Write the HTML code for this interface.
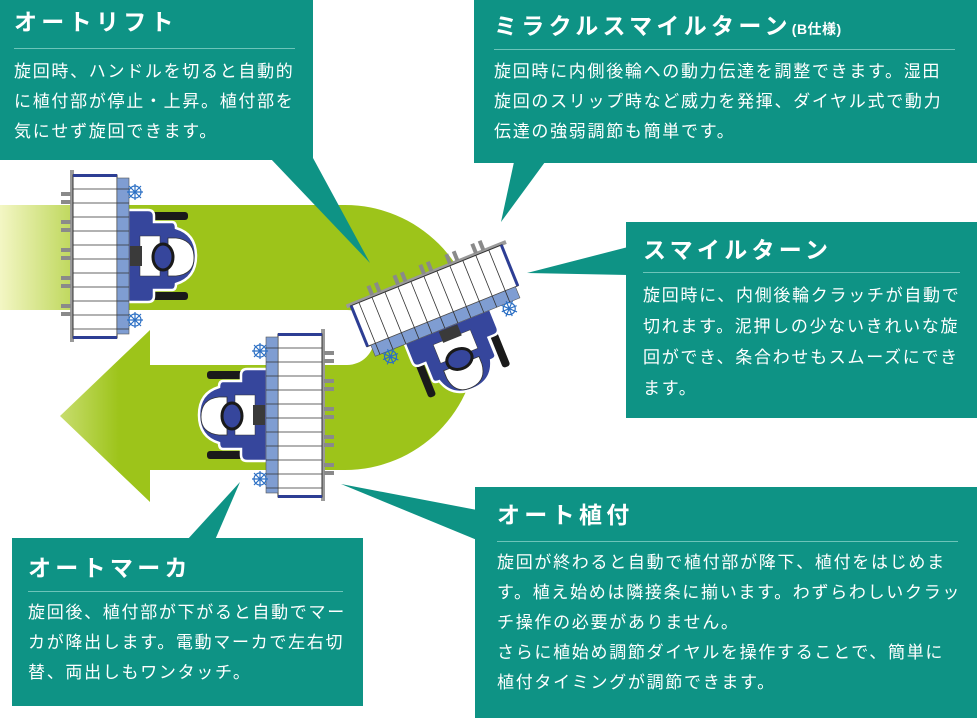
<!DOCTYPE html>
<html><head><meta charset="utf-8">
<style>
html,body{margin:0;padding:0;background:#fff;}
body{width:977px;height:718px;position:relative;overflow:hidden;font-family:"Liberation Sans","Noto Sans CJK JP",sans-serif;}
.box{position:absolute;background:#0e9385;color:#fff;}
.t{position:absolute;font-weight:bold;font-size:23px;letter-spacing:4.3px;line-height:28px;white-space:nowrap;}
.t small{font-size:14px;letter-spacing:0.5px;}
.r{position:absolute;height:1px;background:#6cc4b9;}
.b{position:absolute;font-size:17px;letter-spacing:1.7px;line-height:30px;white-space:nowrap;}
svg{position:absolute;left:0;top:0;}
</style></head><body>
<svg width="977" height="718" viewBox="0 0 977 718">
<defs>
<linearGradient id="g" gradientUnits="userSpaceOnUse" x1="0" y1="0" x2="140" y2="0">
<stop offset="0" stop-color="#f3f6c4"/><stop offset="0.85" stop-color="#9dc41a"/><stop offset="1" stop-color="#9dc41a"/>
</linearGradient>
<g id="m">
<rect x="-60" y="-86" width="4" height="172" fill="#9a9a9a"/>
<g fill="#8a8a8a">
<rect x="-69" y="-64" width="10" height="4"/><rect x="-69" y="-56" width="10" height="4"/>
<rect x="-69" y="-36" width="10" height="4"/><rect x="-69" y="-28" width="10" height="4"/>
<rect x="-69" y="-8" width="10" height="4"/><rect x="-69" y="0" width="10" height="4"/>
<rect x="-69" y="20" width="10" height="4"/><rect x="-69" y="28" width="10" height="4"/>
<rect x="-69" y="48" width="10" height="4"/><rect x="-69" y="56" width="10" height="4"/>
</g>
<rect x="22" y="-44" width="36" height="8" rx="3" fill="#1a1a1a"/>
<rect x="22" y="36" width="36" height="8" rx="3" fill="#1a1a1a"/>
<path d="M-2,-46 H18 Q24,-46 24,-40 V-34 H42 Q46,-34 46,-28 Q66,-22 66,0 Q66,22 46,28 Q46,34 42,34 H24 V40 Q24,46 18,46 H-2 Z" fill="#36469c" stroke="#fff" stroke-width="2.5"/>
<path d="M38,-18 H46 Q64,-16 64,2 Q64,18 46,20 H38 Z" fill="#fff" stroke="#333" stroke-width="0.8"/>
<rect x="10" y="-20" width="20" height="40" fill="#fff" stroke="#333" stroke-width="0.5"/>
<rect x="0" y="-10" width="12" height="20" fill="#3a3a3a"/>
<ellipse cx="33" cy="1" rx="10" ry="13" fill="#36469c" stroke="#1a1a1a" stroke-width="3"/>
<rect x="-57" y="-81" width="44" height="163" fill="#fff" stroke="#333" stroke-width="1"/>
<rect x="-57" y="-82" width="44" height="3" fill="#2d3e94"/>
<rect x="-57" y="80" width="44" height="3" fill="#2d3e94"/>
<rect x="-13" y="-78" width="12" height="156" fill="#7f9dd2" stroke="#555" stroke-width="0.6"/>
<g stroke="#333" stroke-width="0.8">
<line x1="-57" y1="-67" x2="-1" y2="-67"/><line x1="-57" y1="-53" x2="-1" y2="-53"/>
<line x1="-57" y1="-39" x2="-1" y2="-39"/><line x1="-57" y1="-25" x2="-1" y2="-25"/>
<line x1="-57" y1="-11" x2="-1" y2="-11"/><line x1="-57" y1="3" x2="-1" y2="3"/>
<line x1="-57" y1="17" x2="-1" y2="17"/><line x1="-57" y1="31" x2="-1" y2="31"/>
<line x1="-57" y1="45" x2="-1" y2="45"/><line x1="-57" y1="59" x2="-1" y2="59"/>
<line x1="-57" y1="73" x2="-1" y2="73"/>
</g>
<g fill="none" stroke="#2b6fc4" stroke-width="1.2">
<circle cx="5" cy="-64" r="6"/><path d="M-3,-64H13M5,-72V-56M-1,-70L11,-58M11,-70L-1,-58"/>
<circle cx="5" cy="64" r="6"/><path d="M-3,64H13M5,56V72M-1,58L11,70M11,58L-1,70"/>
</g>
</g>
</defs>
<path d="M0,205 H345 A132.5,132.5 0 0 1 345,470 H150 V502 L60,416 L150,330 V365 H347 A27.5,27.5 0 0 0 347,310 H0 Z" fill="url(#g)"/>
<use href="#m" transform="translate(130,256)"/>
<use href="#m" transform="translate(265,415) scale(-1,1)"/>
<use href="#m" transform="translate(448,328) rotate(68)"/>
<g fill="#0e9385">
<polygon points="270,158 313,158 370,263"/>
<polygon points="514,162 545,162 501,222"/>
<polygon points="628,247 628,275 527,273"/>
<polygon points="187,540 215,540 240,482"/>
<polygon points="477,510 477,540 341,484"/>
</g>
</svg>

<div class="box" style="left:0;top:0;width:313px;height:160px;">
<div class="t" style="left:14px;top:8px;">オートリフト</div>
<div class="r" style="left:14px;top:48px;width:281px;"></div>
<div class="b" style="left:14px;top:57px;">旋回時、ハンドルを切ると自動的<br>に植付部が停止・上昇。植付部を<br>気にせず旋回できます。</div>
</div>

<div class="box" style="left:474px;top:0;width:503px;height:163px;">
<div class="t" style="left:20px;top:12px;">ミラクルスマイルターン<small>(B仕様)</small></div>
<div class="r" style="left:20px;top:49px;width:461px;"></div>
<div class="b" style="left:20px;top:57px;">旋回時に内側後輪への動力伝達を調整できます。湿田<br>旋回のスリップ時など威力を発揮、ダイヤル式で動力<br>伝達の強弱調節も簡単です。</div>
</div>

<div class="box" style="left:626px;top:222px;width:351px;height:196px;">
<div class="t" style="left:17px;top:14px;">スマイルターン</div>
<div class="r" style="left:17px;top:50px;width:317px;"></div>
<div class="b" style="left:17px;top:58px;line-height:31px;">旋回時に、内側後輪クラッチが自動で<br>切れます。泥押しの少ないきれいな旋<br>回ができ、条合わせもスムーズにでき<br>ます。</div>
</div>

<div class="box" style="left:12px;top:538px;width:351px;height:168px;">
<div class="t" style="left:16px;top:16px;">オートマーカ</div>
<div class="r" style="left:16px;top:53px;width:315px;"></div>
<div class="b" style="left:16px;top:60px;">旋回後、植付部が下がると自動でマー<br>カが降出します。電動マーカで左右切<br>替、両出しもワンタッチ。</div>
</div>

<div class="box" style="left:475px;top:487px;width:502px;height:231px;">
<div class="t" style="left:22px;top:14px;">オート植付</div>
<div class="r" style="left:22px;top:54px;width:461px;"></div>
<div class="b" style="left:22px;top:61px;">旋回が終わると自動で植付部が降下、植付をはじめま<br>す。植え始めは隣接条に揃います。わずらわしいクラッ<br>チ操作の必要がありません。<br>さらに植始め調節ダイヤルを操作することで、簡単に<br>植付タイミングが調節できます。</div>
</div>
</body></html>
